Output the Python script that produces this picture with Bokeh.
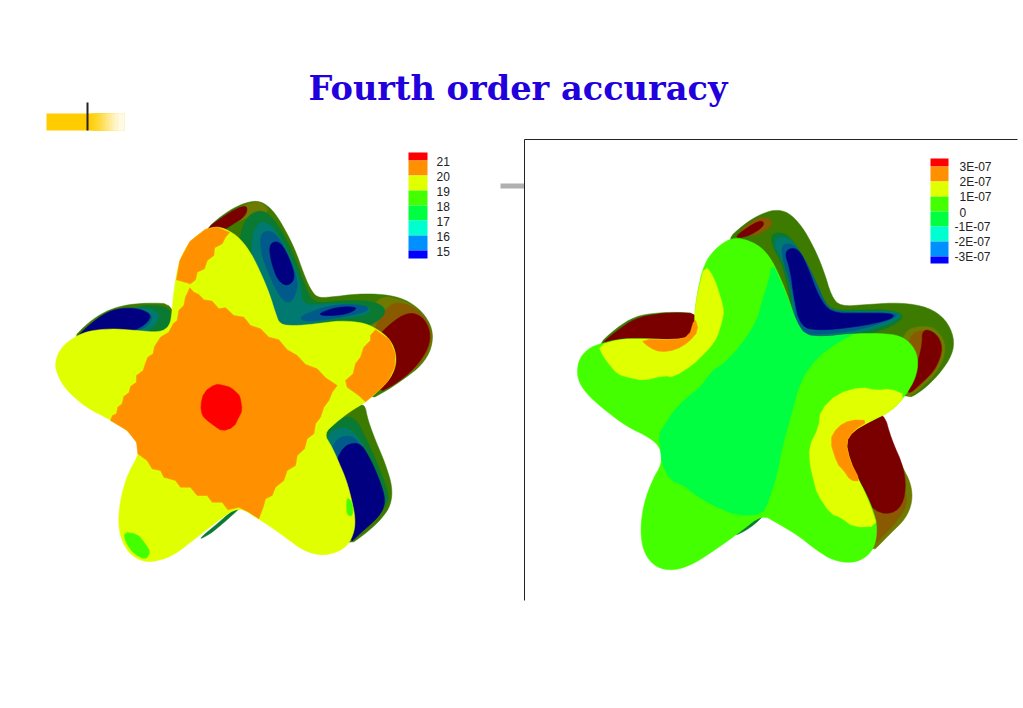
from bokeh.plotting import figure
from bokeh.embed import file_html
from bokeh.resources import INLINE
from bokeh.models import Range1d
from bokeh.core.properties import value

TITLE = "Fourth order accuracy"
LEFT_LABELS = ["21", "20", "19", "18", "17", "16", "15"]
RIGHT_LABELS = ["3E-07", "2E-07", "1E-07", "0", "-1E-07", "-2E-07", "-3E-07"]
BANDS = ["#ff0000", "#ff9100", "#e0ff00", "#44ff00", "#00ff40", "#00ffd0", "#0090ff", "#0000ff"]
BAND_EDGES_LEFT = [152, 160, 175, 190, 205, 220, 235, 250, 258]
BAND_EDGES_RIGHT = [158, 166, 181, 196, 211, 226, 241, 256, 263]
FADE_COLORS = ["#ffcc00", "#ffd011", "#ffd422", "#ffd833", "#ffdc4d", "#ffe166", "#ffe680", "#ffeb99", "#fff0b3", "#fff5cc", "#fffae6"]
FADE_START = [46, 90, 93, 96, 99, 102, 105, 108, 111, 114, 118]

RED, ORG, YEL, GRN, MNT = "#ff0000", "#ff9100", "#e0ff00", "#44ff00", "#00ff40"
NAVY, BTL, TEAL, DGR, BASE, OLV, BRN, DRD = "#000080", "#005a8a", "#007a70", "#0a7a32", "#3c7a00", "#6e7a00", "#8a5a00", "#7a0000"

# ---- left panel (values are read at 3x from the picture) ----
L_FRONT = [(525,266),(560,258),(592,268),(628,293),(662,338),(692,400),(717,460),(735,518),(748,552),(790,556),(850,551),(930,540),(1002,547),(1044,568),(1080,598),(1097,640),(1095,682),(1074,722),(1042,753),(1005,785),(960,812),(915,847),(880,880),(905,920),(927,970),(948,1020),(964,1080),(974,1130),(972,1172),(953,1214),(917,1237),(870,1245),(818,1230),(768,1193),(720,1158),(680,1133),(625,1098),(560,1142),(490,1198),(430,1244),(380,1262),(338,1264),(296,1240),(270,1192),(263,1140),(271,1070),(292,1000),(326,940),(320,905),(290,868),(240,838),(168,802),(106,748),(80,702),(73,665),(91,622),(128,592),(170,572),(240,564),(320,570),(387,576),(418,557),(425,510),(428,470),(435,420),(447,358),(478,302)]
L_SIDE_TOP = [(525,268),(570,228),(620,196),(670,180),(703,188),(734,218),(764,268),(794,328),(819,398),(838,443),(860,472),(900,470),(980,460),(1060,461),(1124,476),(1175,512),(1207,565),(1204,623),(1174,674),(1122,714),(1072,748),(1010,782),(800,650),(620,450),(560,330)]
L_SIDE_LOW = [(885,880),(893,848),(930,823),(975,803),(1002,788),(1012,838),(1034,898),(1064,968),(1086,1040),(1081,1094),(1054,1134),(1012,1174),(945,1222),(850,1100)]
L_SIDE_ARM = [(120,600),(172,547),(225,512),(280,494),(350,487),(430,490),(440,600),(240,620)]
L_SLIVER = [(500,1200),(560,1150),(615,1102),(640,1092),(590,1138),(540,1180)]
L_UNDER = [
 (BASE, L_SIDE_TOP), (BASE, L_SIDE_LOW), (BASE, L_SIDE_ARM), (DGR, L_SLIVER),
 (OLV, [(590,225),(640,192),(680,183),(703,192),(718,215),(660,228),(610,250)]),
 (OLV, [(1040,463),(1122,478),(1173,514),(1205,565),(1202,622),(1172,672),(1120,712),(1050,762),(1000,570)]),
 (BRN, [(1075,488),(1128,488),(1173,518),(1202,565),(1199,622),(1168,672),(1112,717),(1050,757),(1020,580)]),
 (DRD, [(520,272),(570,233),(625,200),(652,196),(645,228),(600,255),(560,282)]),
 (DRD, [(1080,548),(1132,515),(1174,526),(1200,570),(1195,622),(1153,684),(1092,733),(1035,760),(1030,600)]),
 (DGR, [(640,235),(690,205),(730,235),(770,300),(800,370),(825,440),(850,490),(930,480),(1020,480),(1065,500),(1060,530),(1000,565),(930,565),(850,570),(700,570),(620,340)]),
 (TEAL, [(670,255),(710,240),(750,290),(790,370),(812,440),(815,495),(890,490),(980,490),(1030,510),(980,530),(900,535),(820,560),(750,560),(700,450),(660,360)]),
 (BTL, [(690,275),(730,270),(770,335),(800,410),(800,450),(780,490),(750,475),(710,390),(690,330)]),
 (BTL, [(800,530),(900,492),(1000,492),(1020,510),(950,528),(830,545)]),
 (NAVY, [(715,310),(748,300),(780,360),(795,415),(770,438),(742,420),(722,365)]),
 (NAVY, [(850,525),(920,498),(990,500),(940,525)]),
 (DGR, [(300,495),(425,495),(430,580),(385,590),(320,590),(240,590)]),
 (TEAL, [(250,505),(350,500),(395,525),(350,580),(250,590)]),
 (BTL, [(200,530),(300,503),(375,520),(340,570),(250,585),(150,590)]),
 (NAVY, [(125,600),(205,528),(260,503),(325,503),(368,525),(330,565),(260,580),(150,600)]),
 (DGR, [(880,875),(930,830),(975,830),(1010,900),(1045,980),(1075,1060),(1070,1090),(1040,1130),(970,1195),(880,1000)]),
 (TEAL, [(885,880),(945,855),(985,890),(1020,960),(1060,1050),(1065,1085),(1030,1135),(975,1190),(890,1000)]),
 (BTL, [(905,900),(965,880),(1000,930),(1040,1010),(1062,1070),(1040,1125),(975,1185),(900,1000)]),
 (NAVY, [(925,925),(985,900),(1020,955),(1052,1030),(1066,1085),(1047,1128),(985,1182),(955,1212),(900,1050)]),
]
L_SQUARE = [(240,840),(246,825),(258,820),(262,800),(275,790),(280,768),(296,756),(300,738),(318,725),(318,705),(338,690),(345,668),(352,650),(368,640),(372,618),(390,590),(415,575),(428,550),(440,540),(445,510),(460,495),(465,470),(478,442),(490,455),(505,462),(520,478),(545,482),(565,505),(585,502),(610,525),(640,530),(660,555),(690,565),(715,590),(745,598),(770,628),(800,645),(825,672),(860,685),(885,712),(920,735),(905,755),(895,780),(880,800),(870,830),(855,850),(850,880),(830,895),(822,925),(800,945),(795,975),(770,990),(760,1020),(735,1040),(725,1065),(705,1075),(698,1100),(685,1135),(655,1115),(625,1100),(592,1108),(575,1085),(545,1085),(530,1065),(500,1065),(480,1040),(450,1040),(435,1020),(400,1010),(390,990),(365,985),(350,960),(322,940),(318,905),(290,870)]
L_TOP_PATCH = [(525,266),(560,260),(597,276),(585,290),(575,310),(552,322),(550,345),(530,360),(522,385),(500,395),(495,418),(480,430),(438,418),(448,360),(478,303)]
L_RIGHT_PATCH = [(1035,568),(1077,598),(1094,640),(1092,680),(1072,722),(1042,752),(1005,784),(985,765),(950,740),(945,720),(968,700),(975,670),(990,650),(1000,620),(1020,600),(1020,585)]
L_CORE = [(555,730),(580,735),(600,740),(625,762),(630,775),(635,810),(625,830),(610,860),(575,872),(550,855),(530,840),(515,825),(510,795),(520,755)]
L_GREEN_A = [(280,1175),(320,1180),(345,1210),(360,1235),(345,1258),(310,1240),(285,1205)]
L_GREEN_B = [(950,1070),(965,1085),(968,1125),(950,1125),(948,1095)]

# ---- right panel ----
R_FRONT = [(500,297),(540,292),(592,312),(628,348),(658,408),(683,470),(705,540),(732,585),(790,590),(870,580),(960,578),(1022,586),(1059,617),(1074,660),(1066,712),(1034,767),(992,812),(930,842),(876,870),(854,905),(868,960),(890,1010),(917,1060),(938,1110),(950,1155),(945,1213),(919,1250),(875,1268),(818,1260),(768,1229),(710,1183),(650,1148),(605,1122),(540,1173),(470,1224),(400,1270),(340,1291),(286,1281),(250,1238),(239,1170),(250,1088),(276,1018),(304,970),(302,925),(270,892),(198,858),(126,803),(76,758),(49,712),(54,658),(81,626),(113,611),(180,595),(250,594),(340,599),(382,594),(403,567),(403,510),(412,450),(427,383),(452,337)]
R_SIDE_TOP = [(500,297),(545,256),(590,226),(640,207),(684,215),(724,257),(759,318),(789,388),(813,468),(840,498),(920,492),(1020,486),(1104,500),(1155,536),(1181,590),(1176,643),(1134,704),(1082,753),(1035,778),(800,650),(600,450),(540,340)]
R_SIDE_LOW = [(950,820),(989,898),(1025,978),(1052,1030),(1056,1084),(1035,1135),(994,1175),(915,1255),(820,1000),(840,880)]
R_SIDE_ARM = [(105,620),(168,562),(225,527),(290,517),(350,515),(412,519),(430,620),(180,640)]
R_SLIVER = [(515,1190),(560,1150),(600,1122),(620,1115),(570,1163)]
R_UNDER = [
 (BASE, R_SIDE_TOP), (OLV, R_SIDE_LOW), (BASE, R_SIDE_ARM), (DGR, R_SLIVER),
 (DRD, [(112,618),(170,570),(225,533),(290,520),(350,516),(414,520),(430,600),(340,640),(250,640),(150,640)]),
 (BRN, [(530,275),(590,232),(628,232),(638,255),(580,290)]),
 (DRD, [(515,292),(600,235),(615,255),(560,290)]),
 (OLV, [(1030,570),(1085,555),(1130,565),(1160,620),(1135,690),(1080,745),(1030,780),(1020,650)]),
 (BRN, [(1050,570),(1125,572),(1150,620),(1130,685),(1090,725),(1040,770),(1040,660)]),
 (DRD, [(1085,565),(1125,575),(1148,620),(1128,682),(1090,722),(1035,770),(1060,700),(1085,620)]),
 (BRN, [(900,1090),(1030,1040),(1042,1090),(1012,1140),(950,1205),(895,1250)]),
 (DRD, [(820,900),(915,825),(970,815),(992,895),(1032,985),(1036,1065),(1008,1118),(945,1118),(860,1020)]),
 (DGR, [(620,285),(670,272),(712,318),(752,400),(782,470),(815,510),(900,508),(1000,508),(1035,530),(980,565),(880,590),(780,600),(700,600),(680,400)]),
 (TEAL, [(630,300),(680,285),(718,330),(758,410),(788,480),(815,513),(900,513),(1010,513),(1025,530),(960,560),(880,580),(780,590),(700,590),(690,400)]),
 (BTL, [(655,320),(690,305),(725,340),(765,420),(795,490),(820,516),(1005,516),(1010,530),(950,552),(880,572),(780,582),(710,580),(700,460)]),
 (NAVY, [(670,330),(710,320),(738,370),(775,470),(812,518),(900,518),(996,518),(1000,532),(950,547),(880,560),(780,570),(720,560),(700,470),(690,390)]),
]
R_MID = [(635,370),(625,420),(605,480),(590,540),(545,610),(490,670),(455,690),(420,740),(380,770),(340,810),(318,845),(295,880),(300,925),(304,970),(330,1020),(370,1035),(400,1060),(440,1085),(470,1100),(530,1125),(605,1122),(625,1080),(650,1000),(665,920),(690,830),(720,720),(770,650),(840,600),(885,580),(790,590),(735,585),(705,540),(680,470),(655,410)]
R_Y1 = [(113,615),(180,596),(250,595),(340,598),(385,590),(403,565),(403,510),(413,450),(433,373),(460,410),(480,470),(490,510),(485,540),(470,590),(450,620),(420,650),(400,670),(340,710),(310,705),(250,720),(200,710),(170,700),(145,670),(130,650)]
R_O1 = [(240,597),(340,598),(385,590),(403,530),(414,570),(385,605),(345,628),(300,635),(265,620)]
R_Y2 = [(1037,765),(992,812),(930,842),(878,872),(856,905),(868,960),(890,1010),(915,1060),(935,1110),(950,1157),(880,1160),(840,1130),(810,1120),(770,1060),(760,1020),(750,980),(745,920),(775,860),(780,810),(830,760),(900,740),(950,750),(990,745)]
R_O2 = [(925,840),(878,870),(856,905),(868,960),(900,1022),(870,1020),(850,990),(830,970),(808,900),(830,860),(870,838)]

p = figure(width=1023, height=708, x_range=Range1d(0, 1023), y_range=Range1d(708, 0),
           output_backend="svg", toolbar_location=None, min_border=0,
           x_axis_type=None, y_axis_type=None, outline_line_color=None, background_fill_color="white")
p.grid.visible = False

def rounded(pts, passes):
    # corner-cutting so the read outline points draw as a curve, not as facets
    for _ in range(passes):
        out = []
        for (a, b), (c, d) in zip(pts, pts[1:] + pts[:1]):
            out += [(.75 * a + .25 * c, .75 * b + .25 * d), (.25 * a + .75 * c, .25 * b + .75 * d)]
        pts = out
    return pts

def draw(dx, polys, passes):
    for c, pts in polys:
        pts = rounded(pts, passes)
        p.patch([dx + a / 3 for a, b in pts], [140 + b / 3 for a, b in pts],
                fill_color=c, line_color=c, line_width=0.5)

draw(30, L_UNDER, 2)
draw(30, [(YEL, L_FRONT)], 2)
draw(30, [(ORG, L_SQUARE), (ORG, L_TOP_PATCH), (ORG, L_RIGHT_PATCH)], 0)
draw(30, [(RED, L_CORE), (GRN, L_GREEN_A), (GRN, L_GREEN_B)], 1)
draw(560, R_UNDER, 2)
draw(560, [(GRN, R_FRONT)], 2)
draw(560, [(MNT, R_MID), (YEL, R_Y1), (ORG, R_O1), (YEL, R_Y2), (ORG, R_O2)], 1)

def legend(x0, x1, edges, labels, lx, neg_shift):
    p.quad(left=x0, right=x1, top=edges[:-1], bottom=edges[1:], fill_color=BANDS, line_color=None)
    for lab, e in zip(labels, edges[1:-1]):
        shift = neg_shift if lab.startswith("-") else 0
        p.text([lx - shift], [e + 0.5], text=[lab], text_font=value("Liberation Sans"),
               text_font_size="12px", text_color="#222222", text_baseline="middle", text_align="left")

legend(408, 427, BAND_EDGES_LEFT, LEFT_LABELS, 436, 0)
legend(930, 948, BAND_EDGES_RIGHT, RIGHT_LABELS, 959, 5)

p.text([308], [87], text=[TITLE], text_font=value("DejaVu Serif"), text_font_style="bold",
       text_font_size="33.6px", text_color="#2200dd", text_baseline="alphabetic", text_align="left")

# decoration
p.quad(left=FADE_START, right=[124] * len(FADE_START), top=113, bottom=130, fill_color=FADE_COLORS, line_color=None)
p.segment(87, 102, 87, 130, line_color="#222222", line_width=2)
p.quad(left=500, right=524, top=183, bottom=188, fill_color="#b0b0b0", line_color=None)
p.segment(524, 139, 1017, 139, line_color="#222222", line_width=1)
p.segment(524, 139, 524, 600, line_color="#222222", line_width=1)

open("out.html", "w").write(file_html(p, INLINE))
